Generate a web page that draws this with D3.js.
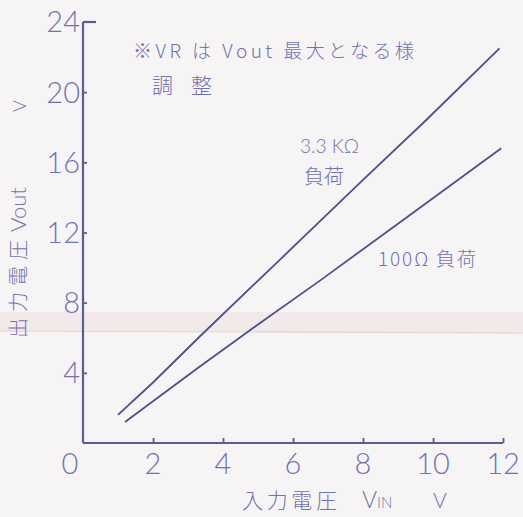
<!DOCTYPE html>
<html><head><meta charset="utf-8">
<script src="https://cdn.jsdelivr.net/npm/d3@7/dist/d3.min.js"></script>
<style>
html,body{margin:0;padding:0;background:#f7f4f6;}
svg{display:block;}
</style></head>
<body>
<svg id="chart" width="523" height="517"></svg>
<script>
// ---- data ----
const xTicks = [0, 2, 4, 6, 8, 10, 12];
const yTicks = [4, 8, 12, 16, 20, 24];
const load33kX = [1.0, 2.0, 3.3, 5.6, 8.0, 9.8, 11.9];
const load33kY = [1.6, 3.45, 6.0, 10.4, 15.0, 18.4, 22.5];
const load100X = [1.2, 3.3, 5.1, 6.8, 9.0, 11.95];
const load100Y = [1.2, 4.3, 6.9, 9.3, 12.5, 16.8];
const seriesLabels = ["3.3 KΩ", "負荷", "100Ω 負荷"];
const xTitle = ["入力電圧", "V", "IN", "V"];
const yTitle = ["出力電圧", "Vout", "V"];
const note = ["※VR は Vout 最大となる様", "調整"];

// ---- layout ----
const W = 523, H = 517;
const m = {left: 83, top: 22, right: 20, bottom: 74};
const ink = "#5b5b98", inkLight = "#7272ae";
const digitFont = "Lato, 'Open Sans', 'DejaVu Sans', sans-serif";
const jpFont = "'Noto Sans CJK JP', 'Noto Sans', sans-serif";

const svg = d3.select("#chart");
// paper fold band
svg.append("rect").attr("x", 0).attr("y", 312).attr("width", W).attr("height", 20)
  .attr("fill", "#efe3e1").attr("opacity", 0.6);
svg.append("line").attr("x1", 0).attr("x2", W).attr("y1", 331).attr("y2", 333)
  .attr("stroke", "#e0d6d6").attr("stroke-width", 1.2);

const x = d3.scaleLinear().domain([0, 12]).range([m.left, W - m.right]);
const y = d3.scaleLinear().domain([0, 24]).range([H - m.bottom, m.top]);

// axes
const xAxis = d3.axisBottom(x).tickValues(xTicks.filter(d => d > 0)).tickSize(-5).tickFormat("");
const gx = svg.append("g").attr("transform", `translate(0,${y(0)})`).call(xAxis);
const yAxis = d3.axisLeft(y).tickValues(yTicks.filter(d => d < 24)).tickSize(-4).tickFormat("");
const gy = svg.append("g").attr("transform", `translate(${x(0)},0)`).call(yAxis);
[gx, gy].forEach(g => {
  g.select(".domain").attr("stroke", ink).attr("stroke-width", 2.2);
  g.selectAll(".tick line").attr("stroke", ink).attr("stroke-width", 1.8);
});
gx.select(".domain").attr("d", `M${x(0)},0H${x(12)}`);
gy.select(".domain").attr("d", `M0,${y(0)}V${y(24)}`);
// top cap tick at 24
svg.append("line").attr("x1", x(0)).attr("x2", x(0) + 13).attr("y1", y(24)).attr("y2", y(24))
  .attr("stroke", ink).attr("stroke-width", 2.2);

// tick labels
svg.append("g").selectAll("text").data(yTicks).join("text")
  .attr("x", x(0) - 3).attr("y", d => y(d)).attr("dy", "0.36em")
  .attr("text-anchor", "end").attr("font-family", digitFont).attr("font-weight", 300)
  .attr("font-size", 29).attr("fill", inkLight).text(d => d);
svg.append("g").selectAll("text").data(xTicks).join("text")
  .attr("x", d => d === 0 ? x(d) - 13 : x(d)).attr("y", y(0) + 21).attr("dy", "0.36em")
  .attr("text-anchor", "middle").attr("font-family", digitFont).attr("font-weight", 300)
  .attr("font-size", 29).attr("fill", inkLight).text(d => d);

// lines
const line = d3.line().x(d => x(d[0])).y(d => y(d[1]));
const s1 = load33kX.map((v, i) => [v, load33kY[i]]);
const s2 = load100X.map((v, i) => [v, load100Y[i]]);
[s1, s2].forEach(s => svg.append("path").datum(s).attr("d", line)
  .attr("fill", "none").attr("stroke", "#4f4f8c").attr("stroke-width", 1.8));

// series labels
const lab = svg.append("g").attr("fill", inkLight).attr("font-family", jpFont).attr("font-size", 19).attr("font-weight", 300);
lab.append("text").attr("x", 300).attr("y", 153).attr("font-family", digitFont).text(seriesLabels[0]);
lab.append("text").attr("x", 304).attr("y", 184).attr("font-size", 20).text(seriesLabels[1]);
lab.append("text").attr("x", 378).attr("y", 266).attr("textLength", 98).text(seriesLabels[2]);

// note
const nt = svg.append("g").attr("fill", inkLight).attr("font-family", jpFont).attr("font-size", 19).attr("font-weight", 300);
nt.append("text").attr("x", 133).attr("y", 58).attr("textLength", 281).attr("lengthAdjust", "spacing").text(note[0]);
nt.append("text").attr("x", 152).attr("y", 93).attr("font-size", 21).attr("textLength", 60).attr("lengthAdjust", "spacing").text(note[1]);

// x title
const xt = svg.append("g").attr("fill", inkLight).attr("font-family", jpFont).attr("font-size", 21).attr("font-weight", 300);
xt.append("text").attr("x", 242).attr("y", 508).attr("textLength", 95).attr("lengthAdjust", "spacing").text(xTitle[0]);
const vin = xt.append("text").attr("x", 362).attr("y", 508).attr("font-family", digitFont);
vin.append("tspan").attr("font-size", 23).text(xTitle[1]);
vin.append("tspan").attr("font-size", 15).text(xTitle[2]);
xt.append("text").attr("x", 433).attr("y", 508).attr("font-family", digitFont).attr("font-size", 21).text(xTitle[3]);

// y title (rotated, reads bottom to top)
const yt = svg.append("g").attr("fill", inkLight).attr("font-family", jpFont).attr("font-size", 20).attr("font-weight", 300);
yt.append("text").attr("transform", "translate(26,338) rotate(-90)").attr("textLength", 98).attr("lengthAdjust", "spacing").text(yTitle[0]);
yt.append("text").attr("transform", "translate(26,232) rotate(-90)").attr("font-family", digitFont).attr("font-size", 22).text(yTitle[1]);
yt.append("text").attr("transform", "translate(26,112) rotate(-90)").attr("font-family", digitFont).attr("font-size", 18).text(yTitle[2]);
</script>
</body></html>
